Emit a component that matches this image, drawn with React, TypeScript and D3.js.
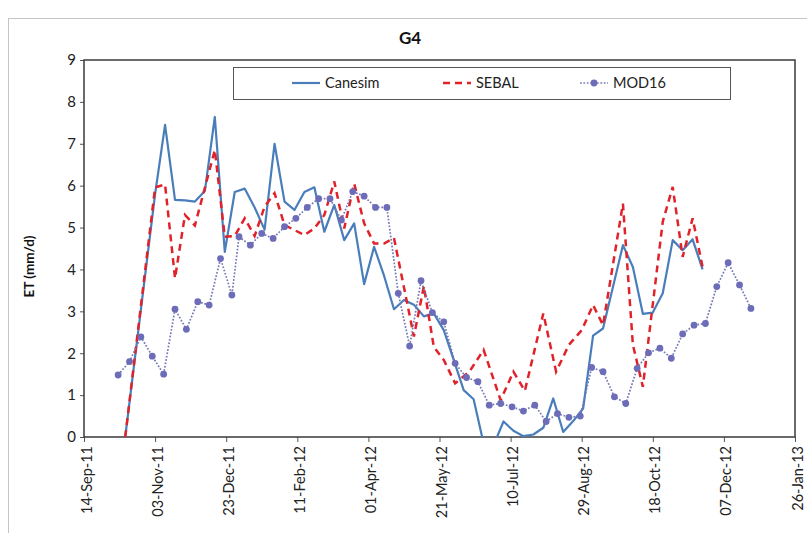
import React from "react";
import * as d3 from "d3";

// ET series (mm/d)
const canesim: [string, number][] = [
    ["2011-10-13", 0], ["2011-11-03", 5.8], ["2011-11-10", 7.45], ["2011-11-17", 5.66], ["2011-11-24", 5.65],
    ["2011-12-01", 5.62], ["2011-12-08", 5.87], ["2011-12-15", 7.64], ["2011-12-22", 4.42],
    ["2011-12-29", 5.85], ["2012-01-05", 5.93], ["2012-01-12", 5.48], ["2012-01-19", 4.95],
    ["2012-01-26", 7.0], ["2012-02-02", 5.62], ["2012-02-09", 5.42], ["2012-02-16", 5.85],
    ["2012-02-23", 5.96], ["2012-03-01", 4.9], ["2012-03-08", 5.54], ["2012-03-15", 4.7],
    ["2012-03-22", 5.1], ["2012-03-29", 3.65], ["2012-04-05", 4.54], ["2012-04-12", 3.85],
    ["2012-04-19", 3.05], ["2012-04-26", 3.27], ["2012-05-03", 3.16], ["2012-05-10", 2.88],
    ["2012-05-17", 2.95], ["2012-05-24", 2.55], ["2012-05-31", 1.84], ["2012-06-07", 1.12],
    ["2012-06-14", 0.9], ["2012-06-21", -0.15], ["2012-06-28", -0.2], ["2012-07-05", 0.37],
    ["2012-07-12", 0.15], ["2012-07-19", 0.02], ["2012-07-26", 0.06], ["2012-08-02", 0.22],
    ["2012-08-09", 0.92], ["2012-08-16", 0.12], ["2012-08-23", 0.38], ["2012-08-30", 0.68],
    ["2012-09-06", 2.42], ["2012-09-13", 2.59], ["2012-09-27", 4.58], ["2012-10-04", 4.06],
    ["2012-10-11", 2.94], ["2012-10-18", 2.97], ["2012-10-25", 3.43], ["2012-11-01", 4.7],
    ["2012-11-08", 4.46], ["2012-11-15", 4.72], ["2012-11-22", 4.0],
];

const sebal: [string, number][] = [
    ["2011-10-13", 0], ["2011-11-03", 5.96], ["2011-11-10", 6.03], ["2011-11-17", 3.79],
    ["2011-11-24", 5.3], ["2011-12-01", 5.05], ["2011-12-15", 6.85], ["2011-12-22", 4.78],
    ["2011-12-29", 4.8], ["2012-01-05", 5.22], ["2012-01-12", 4.8], ["2012-01-19", 5.5],
    ["2012-01-26", 5.82], ["2012-02-02", 5.06], ["2012-02-09", 4.94], ["2012-02-16", 4.82],
    ["2012-02-23", 4.98], ["2012-03-01", 5.3], ["2012-03-08", 6.1], ["2012-03-15", 4.98],
    ["2012-03-22", 6.05], ["2012-03-29", 5.1], ["2012-04-05", 4.62], ["2012-04-12", 4.62],
    ["2012-04-19", 4.75], ["2012-05-03", 2.4], ["2012-05-10", 3.6], ["2012-05-17", 2.15],
    ["2012-05-24", 1.84], ["2012-06-01", 1.28], ["2012-06-11", 1.56], ["2012-06-21", 2.08],
    ["2012-07-03", 0.88], ["2012-07-12", 1.56], ["2012-07-20", 1.1], ["2012-08-02", 2.95],
    ["2012-08-11", 1.56], ["2012-08-20", 2.2], ["2012-08-29", 2.55], ["2012-09-06", 3.15],
    ["2012-09-13", 2.67], ["2012-09-27", 5.57], ["2012-10-04", 2.2], ["2012-10-11", 1.2],
    ["2012-10-25", 5.14], ["2012-11-01", 5.97], ["2012-11-08", 4.3], ["2012-11-15", 5.22],
    ["2012-11-22", 4.06],
];

const mod16: [string, number][] = [
    ["2011-10-08", 1.48], ["2011-10-16", 1.8], ["2011-10-24", 2.39], ["2011-11-01", 1.93],
    ["2011-11-09", 1.5], ["2011-11-17", 3.05], ["2011-11-25", 2.57], ["2011-12-03", 3.23],
    ["2011-12-11", 3.15], ["2011-12-19", 4.26], ["2011-12-27", 3.39], ["2012-01-01", 4.78],
    ["2012-01-09", 4.58], ["2012-01-17", 4.86], ["2012-01-25", 4.74], ["2012-02-02", 5.02],
    ["2012-02-10", 5.22], ["2012-02-18", 5.48], ["2012-02-26", 5.69], ["2012-03-05", 5.69],
    ["2012-03-13", 5.18], ["2012-03-21", 5.86], ["2012-03-29", 5.75], ["2012-04-06", 5.48],
    ["2012-04-14", 5.48], ["2012-04-22", 3.43], ["2012-04-30", 2.17], ["2012-05-08", 3.73],
    ["2012-05-16", 2.97], ["2012-05-24", 2.75], ["2012-06-01", 1.76], ["2012-06-09", 1.42],
    ["2012-06-17", 1.32], ["2012-06-25", 0.76], ["2012-07-03", 0.8], ["2012-07-11", 0.72],
    ["2012-07-19", 0.62], ["2012-07-27", 0.76], ["2012-08-04", 0.37], ["2012-08-12", 0.56],
    ["2012-08-20", 0.47], ["2012-08-28", 0.5], ["2012-09-05", 1.66], ["2012-09-13", 1.56],
    ["2012-09-21", 0.96], ["2012-09-29", 0.8], ["2012-10-07", 1.64], ["2012-10-15", 2.01],
    ["2012-10-23", 2.12], ["2012-10-31", 1.88], ["2012-11-08", 2.46], ["2012-11-16", 2.67],
    ["2012-11-24", 2.71], ["2012-12-02", 3.59], ["2012-12-10", 4.16], ["2012-12-18", 3.63],
    ["2012-12-26", 3.07],
];

const xTicks = [
    "2011-09-14", "2011-11-03", "2011-12-23", "2012-02-11", "2012-04-01", "2012-05-21",
    "2012-07-10", "2012-08-29", "2012-10-18", "2012-12-07", "2013-01-26",
];
const yTicks = [0, 1, 2, 3, 4, 5, 6, 7, 8, 9];

const FONT = "Lato, 'Open Sans', sans-serif";

const App = () => {
    const svgRef = React.useRef(null);
    const width = 807;
    const height = 533;
    const plot = { left: 84, top: 60, right: 795, bottom: 437 };

    React.useEffect(() => {
        const parse = d3.timeParse("%Y-%m-%d");
        const xScale = d3
            .scaleTime()
            .domain([parse(xTicks[0]), parse(xTicks[xTicks.length - 1])])
            .range([plot.left, plot.right]);
        const yScale = d3.scaleLinear().domain([0, 9]).range([plot.bottom, plot.top]);

        const svg = d3.select(svgRef.current);
        svg.selectAll("*").remove();

        // outer chart frame
        svg.append("rect")
            .attr("x", 8.5).attr("y", 18.5)
            .attr("width", width).attr("height", height)
            .attr("fill", "white").attr("stroke", "#c4c4c4");

        svg.append("text")
            .attr("x", 410).attr("y", 44)
            .attr("text-anchor", "middle")
            .attr("font-family", FONT).attr("font-weight", "bold").attr("font-size", 17)
            .attr("fill", "#111")
            .text("G4");

        svg.append("defs").append("clipPath").attr("id", "plotClip")
            .append("rect")
            .attr("x", plot.left).attr("y", plot.top)
            .attr("width", plot.right - plot.left).attr("height", plot.bottom - plot.top);

        // Y axis
        const yAxisGroup = svg.append("g")
            .attr("transform", `translate(${plot.left},0)`)
            .call(d3.axisLeft(yScale).tickValues(yTicks).tickSize(4).tickSizeOuter(0).tickPadding(4));
        yAxisGroup.select(".domain").remove();
        yAxisGroup.selectAll("line").attr("stroke", "#555");
        yAxisGroup.selectAll("text")
            .attr("font-family", FONT).attr("font-size", 15).attr("fill", "#222");

        // X axis with rotated date labels
        const xAxisGroup = svg.append("g")
            .attr("transform", `translate(0,${plot.bottom})`)
            .call(
                d3.axisBottom(xScale)
                    .tickValues(xTicks.map((d) => parse(d)))
                    .tickFormat(d3.timeFormat("%d-%b-%y"))
                    .tickSize(5)
                    .tickSizeOuter(0)
            );
        xAxisGroup.select(".domain").remove();
        xAxisGroup.selectAll("line").attr("stroke", "#555");
        xAxisGroup.selectAll("text")
            .attr("font-family", FONT).attr("font-size", 14.5).attr("fill", "#222")
            .attr("transform", "rotate(-90)")
            .attr("text-anchor", "end")
            .attr("x", -9).attr("y", 2).attr("dy", "0.35em");

        // plot frame
        svg.append("rect")
            .attr("x", plot.left).attr("y", plot.top)
            .attr("width", plot.right - plot.left).attr("height", plot.bottom - plot.top)
            .attr("fill", "none").attr("stroke", "#3a3a3a").attr("stroke-width", 1.5);

        svg.append("text")
            .attr("transform", `translate(34,${(plot.top + plot.bottom) / 2 + 18}) rotate(-90)`)
            .attr("text-anchor", "middle")
            .attr("font-family", FONT).attr("font-weight", "bold").attr("font-size", 13.5)
            .attr("fill", "#111")
            .text("ET (mm/d)");

        const line = d3.line<[string, number]>()
            .x((d) => xScale(parse(d[0])))
            .y((d) => yScale(d[1]));

        const series = svg.append("g").attr("clip-path", "url(#plotClip)");
        series.append("path")
            .attr("fill", "none").attr("stroke", "#4A7EBB").attr("stroke-width", 2.2)
            .attr("stroke-linejoin", "round")
            .attr("d", line(canesim));
        series.append("path")
            .attr("fill", "none").attr("stroke", "#E0222A").attr("stroke-width", 2.5)
            .attr("stroke-dasharray", "7,5")
            .attr("d", line(sebal));
        series.append("path")
            .attr("fill", "none").attr("stroke", "#7478B4").attr("stroke-width", 1.7)
            .attr("stroke-dasharray", "1.7,1.7")
            .attr("d", line(mod16));
        series.selectAll(".mark")
            .data(mod16)
            .enter()
            .append("circle")
            .attr("cx", (d) => xScale(parse(d[0])))
            .attr("cy", (d) => yScale(d[1]))
            .attr("r", 3.4)
            .attr("fill", "#6C6CB8");

        // legend
        const legend = svg.append("g");
        legend.append("rect")
            .attr("x", 233.5).attr("y", 67.5).attr("width", 497).attr("height", 32)
            .attr("fill", "white").attr("stroke", "#555");
        const items = [
            { name: "Canesim", x: 292, color: "#4A7EBB", width: 2.2, dash: "" },
            { name: "SEBAL", x: 443, color: "#E0222A", width: 2.5, dash: "7,5" },
            { name: "MOD16", x: 580, color: "#7478B4", width: 1.7, dash: "1.7,1.7" },
        ];
        items.forEach((it) => {
            legend.append("line")
                .attr("x1", it.x).attr("x2", it.x + 28).attr("y1", 83).attr("y2", 83)
                .attr("stroke", it.color).attr("stroke-width", it.width)
                .attr("stroke-dasharray", it.dash);
            if (it.name === "MOD16") {
                legend.append("circle").attr("cx", it.x + 14).attr("cy", 83).attr("r", 3.4).attr("fill", "#6C6CB8");
            }
            legend.append("text")
                .attr("x", it.x + 33).attr("y", 83).attr("dy", "0.35em")
                .attr("font-family", FONT).attr("font-size", 14.5).attr("fill", "#222")
                .text(it.name);
        });
    }, []);

    return (
        <svg
            ref={svgRef}
            width={width}
            height={height}
            style={{ position: "absolute", left: 0, top: 0, background: "white" }}
        />
    );
};

export default App;
